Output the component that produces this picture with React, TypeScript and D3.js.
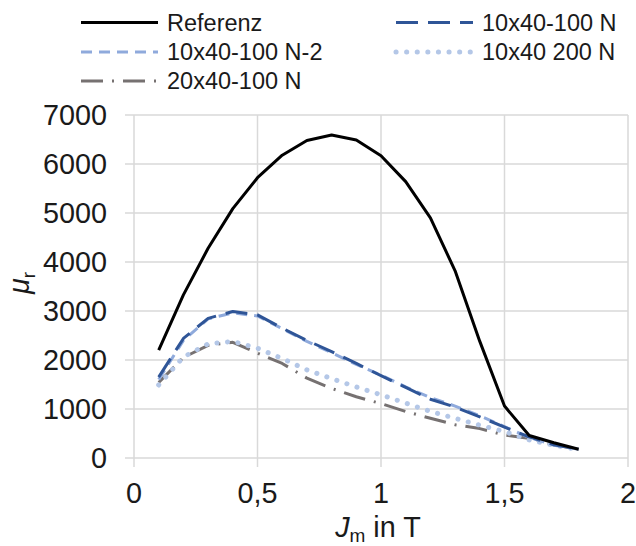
import React from "react";
import * as d3 from "d3";

const xValues = [0.1, 0.2, 0.3, 0.4, 0.5, 0.6, 0.7, 0.8, 0.9, 1.0, 1.1, 1.2, 1.3, 1.4, 1.5, 1.6, 1.7, 1.8];
const referenz = [2200, 3330, 4280, 5090, 5720, 6180, 6480, 6590, 6490, 6170, 5640, 4900, 3820, 2380, 1060, 460, 310, 180];
const s10x40_100N = [1650, 2440, 2850, 2990, 2920, 2650, 2400, 2170, 1930, 1680, 1440, 1200, 1040, 840, 630, 430, 270, 180];
const s10x40_100N2 = [1600, 2400, 2840, 2960, 2900, 2640, 2380, 2150, 1910, 1690, 1450, 1230, 1060, 860, 640, 420, 260, 180];
const s10x40_200N = [1490, 2060, 2330, 2380, 2240, 2030, 1800, 1620, 1450, 1290, 1120, 950, 810, 670, 540, 370, 260, 170];
const s20x40_100N = [1540, 2050, 2300, 2360, 2140, 1930, 1630, 1420, 1250, 1110, 950, 810, 680, 600, 470, 400, 270, 180];

const xTicks = [0, 0.5, 1, 1.5, 2];
const xTickLabels = ["0", "0,5", "1", "1,5", "2"];
const yTicks = [0, 1000, 2000, 3000, 4000, 5000, 6000, 7000];

type Series = {
  name: string;
  values: number[];
  color: string;
  width: number;
  dash?: string;
  cap?: "butt" | "round";
};

const series: Series[] = [
  { name: "20x40-100 N", values: s20x40_100N, color: "#767171", width: 3, dash: "22,9,2,9" },
  { name: "10x40 200 N", values: s10x40_200N, color: "#B4C7E7", width: 5, dash: "0.1,10.5", cap: "round" },
  { name: "10x40-100 N-2", values: s10x40_100N2, color: "#8FAADC", width: 3, dash: "11,7" },
  { name: "10x40-100 N", values: s10x40_100N, color: "#2F5597", width: 3, dash: "22,10" },
  { name: "Referenz", values: referenz, color: "#000000", width: 3 },
];

const legendItems = [
  { name: "Referenz", col: 0, row: 0 },
  { name: "10x40-100 N", col: 1, row: 0 },
  { name: "10x40-100 N-2", col: 0, row: 1 },
  { name: "10x40 200 N", col: 1, row: 1 },
  { name: "20x40-100 N", col: 0, row: 2 },
];

export default function App() {
  const W = 636;
  const H = 546;
  const x = d3.scaleLinear().domain([0, 2]).range([134, 628]);
  const y = d3.scaleLinear().domain([0, 7000]).range([458, 115]);
  const font = "'Liberation Sans', Arial, sans-serif";
  const gridColor = "#d9d9d9";

  const line = (vals: number[]) =>
    d3
      .line<number>()
      .x((_, i) => x(xValues[i]))
      .y((d) => y(d))(vals) || "";

  const legendColX = [81, 396];
  const legendRowY = [22.5, 52, 81];

  return (
    <svg
      width={W}
      height={H}
      style={{ position: "absolute", left: 0, top: 0, background: "#fff" }}
      fontFamily={font}
    >
      {/* grid */}
      {yTicks.map((t) => (
        <line key={"gy" + t} x1={125} x2={628} y1={y(t)} y2={y(t)} stroke={gridColor} strokeWidth={1.5} />
      ))}
      {xTicks.map((t) => (
        <line key={"gx" + t} x1={x(t)} x2={x(t)} y1={115} y2={467} stroke={gridColor} strokeWidth={1.5} />
      ))}

      {/* y tick labels */}
      {yTicks.map((t) => (
        <text key={"ly" + t} x={107} y={y(t)} dy="0.35em" textAnchor="end" fontSize={28.8} fill="#1a1a1a">
          {t}
        </text>
      ))}
      {/* x tick labels */}
      {xTicks.map((t, i) => (
        <text key={"lx" + t} x={x(t)} y={503} textAnchor="middle" fontSize={28.8} fill="#1a1a1a">
          {xTickLabels[i]}
        </text>
      ))}

      {/* axis titles */}
      <text x={378} y={537} textAnchor="middle" fontSize={28.8} fill="#1a1a1a">
        <tspan fontStyle="italic">J</tspan>
        <tspan fontSize={19} dy={5}>m</tspan>
        <tspan dy={-5}> in T</tspan>
      </text>
      <text
        transform={`translate(29,${283}) rotate(-90)`}
        textAnchor="middle"
        fontSize={28.8}
        fill="#1a1a1a"
      >
        <tspan fontStyle="italic">μ</tspan>
        <tspan fontSize={19} dy={6}>r</tspan>
      </text>

      {/* series */}
      {series.map((s) => (
        <path
          key={s.name}
          d={line(s.values)}
          fill="none"
          stroke={s.color}
          strokeWidth={s.width}
          strokeDasharray={s.dash}
          strokeLinecap={s.cap || "butt"}
          strokeLinejoin="round"
        />
      ))}

      {/* legend */}
      {legendItems.map((li) => {
        const s = series.find((q) => q.name === li.name)!;
        const x0 = legendColX[li.col];
        const yy = legendRowY[li.row];
        return (
          <g key={"lg" + li.name}>
            <line
              x1={x0}
              x2={x0 + 77}
              y1={yy}
              y2={yy}
              stroke={s.color}
              strokeWidth={s.width}
              strokeDasharray={s.dash}
              strokeLinecap={s.cap || "butt"}
            />
            <text x={x0 + 86} y={yy} dy="0.35em" fontSize={23.5} fill="#1a1a1a">
              {li.name}
            </text>
          </g>
        );
      })}
    </svg>
  );
}
